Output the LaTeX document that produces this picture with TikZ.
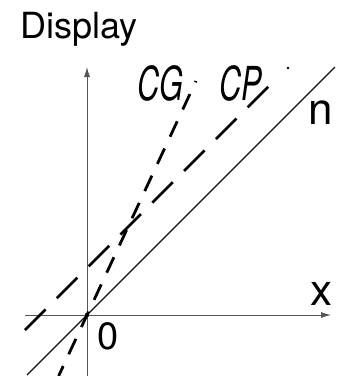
\documentclass[tikz,border=0pt]{standalone}
\usepackage{fontspec}
\setmainfont{TeX Gyre Heros}
\usetikzlibrary{arrows.meta}
\definecolor{axisgray}{HTML}{555555}
\definecolor{linedark}{HTML}{111111}

\begin{document}
\begin{tikzpicture}[x=1pt,y=-1pt,>={Latex[length=10pt,width=6pt]},
  axis/.style={axisgray,line width=0.9pt},
  lcd/.style={font=\fontsize{36}{36}\selectfont\itshape,inner sep=0pt,anchor=base west},
  lbl/.style={font=\fontsize{44}{44}\selectfont,inner sep=0pt,anchor=base}]
\useasboundingbox (0,0) rectangle (342,376);
% axes
\coordinate (O) at (87,315);
\coordinate (xl) at (25,315);
\coordinate (xr) at (331,315);
\coordinate (yb) at (87,376);
\coordinate (yt) at (87,67);
\draw[axis,->] (xl)--(xr);
\draw[axis,->] (yb)--(yt);
% lines
\coordinate (n1) at (27,375);
\coordinate (n2) at (335,67);
\draw[linedark,line width=1.2pt] (n1)--(n2);
\coordinate (cp1) at (25,330);
\coordinate (cp2) at (277,78);
\draw[line width=2.8pt,dash pattern=on 29pt off 16pt] (cp1)--(cp2);
\fill (288,68) circle (1.3pt);
\coordinate (cg1) at (58.6,376);
\coordinate (cg2) at (196,81);
\draw[line width=2.8pt,dash pattern=on 17pt off 13pt,dash phase=6pt] (cg1)--(cg2);
\fill (O) circle (2.2pt);
% labels
\node[anchor=base west,inner sep=0pt,font=\fontsize{36}{36}\selectfont] (disp) at (20,38) {Display};
\node[lcd] (cg) at (137,100) {\scalebox{0.85}[1.3]{CG}};
\node[lcd] (cp) at (219,100) {\scalebox{0.85}[1.3]{CP}};
\node[lbl] (nlab) at (321,124) {n};
\node[lbl] (xlab) at (322,305) {x};
\node[lbl,font=\fontsize{38}{38}\selectfont] (zero) at (108,349) {0};
\end{tikzpicture}
\end{document}
